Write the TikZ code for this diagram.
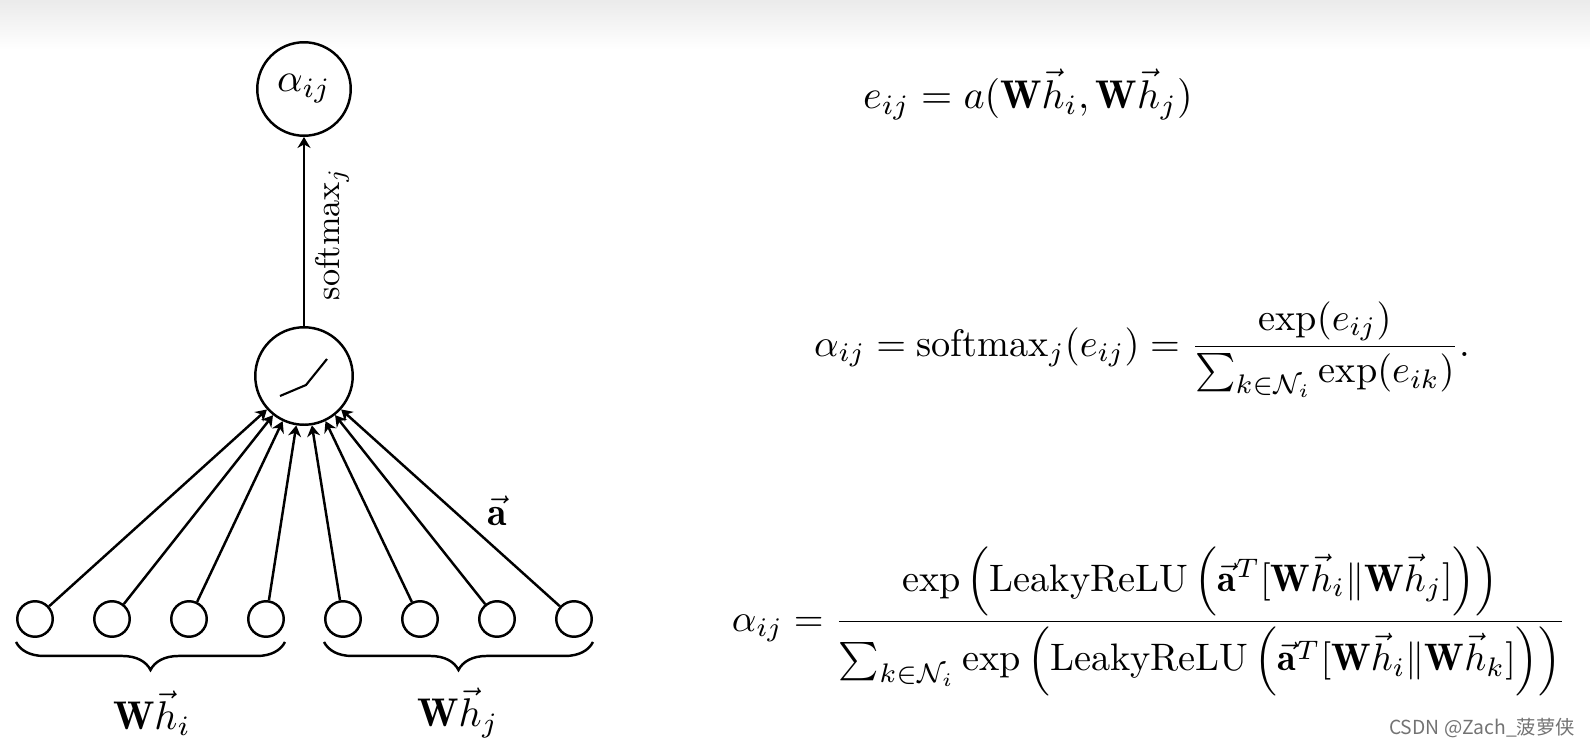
\documentclass[tikz,border=0pt]{standalone}
\usepackage{amsmath}
\usepackage{graphicx}
\usepackage{fontspec}
\newfontfamily\cjkfont{Noto Sans CJK SC}
\usetikzlibrary{arrows.meta,decorations.pathreplacing}

\begin{document}
\begin{tikzpicture}[x=0.02cm, y=-0.02cm, line width=1.4pt,
  eqn/.style={scale=2.28},
  frac/.style={scale=2.18, anchor=base},
  neuron/.style={circle, draw, inner sep=0pt, minimum size=0.71cm},
  unit/.style={circle, draw, inner sep=0pt, minimum size=1.95cm},
  arr/.style={-{Stealth[length=0.22cm, width=0.26cm]}},
  brace/.style={decorate, decoration={brace, mirror, amplitude=0.56cm}}]

% shaded strip on top
\shade[top color=black!8, bottom color=white] (0,0) rectangle (1590,50);
\useasboundingbox (0,0) rectangle (1590,747);

% output and hidden unit
\node[unit, minimum size=1.87cm] (alpha) at (304,89) {\scalebox{2.28}{$\alpha_{ij}$}};
\node[unit] (mid) at (304,376) {};
\draw[line width=1.2pt] ([shift={(-24,20)}]mid.center) -- ++(26,-11) -- ++(21,-26);
\draw[arr] (mid) -- (alpha);
\node[rotate=90, scale=1.95] (smx) at (332,234) {$\mathrm{softmax}_j$};

% input neurons
\foreach \k in {1,...,8}
  \node[neuron] (b\k) at ({35+77*(\k-1)},619) {};
\foreach \k in {1,...,8}
  \draw[arr] (b\k) -- (mid);
\node[eqn] (avec) at (497,511) {$\vec{\mathbf{a}}$};

% braces
\draw[brace] ([yshift=-0.08cm]b1.west |- b1.south) -- ([yshift=-0.08cm]b4.east |- b4.south);
\draw[brace] ([yshift=-0.08cm]b5.west |- b5.south) -- ([yshift=-0.08cm]b8.east |- b8.south);
\node[eqn] (whi) at (152,713) {$\mathbf{W}\vec{h}_i$};
\node[eqn] (whj) at (458,713) {$\mathbf{W}\vec{h}_j$};

% equations
\node[eqn, anchor=base] (eq1) at (1028,108) {$e_{ij} = a(\mathbf{W}\vec{h}_i, \mathbf{W}\vec{h}_j)$};
\node[frac] (eq2) at (1142,356) {$\displaystyle \alpha_{ij} = \mathrm{softmax}_j(e_{ij}) = \frac{\exp(e_{ij})}{\sum_{k\in\mathcal{N}_i}\exp(e_{ik})}.$};
\node[frac] (eq3) at (1149,631) {$\displaystyle \alpha_{ij} = \frac{\exp\left(\text{LeakyReLU}\left(\vec{\mathbf{a}}^T[\mathbf{W}\vec{h}_i\|\mathbf{W}\vec{h}_j]\right)\right)}{\sum_{k\in\mathcal{N}_i}\exp\left(\text{LeakyReLU}\left(\vec{\mathbf{a}}^T[\mathbf{W}\vec{h}_i\|\mathbf{W}\vec{h}_k]\right)\right)}$};

\node[font=\cjkfont\fontsize{11}{13}\selectfont, text=black!55] (wm) at (1482,728) {CSDN @Zach\_菠萝侠};
\end{tikzpicture}
\end{document}
